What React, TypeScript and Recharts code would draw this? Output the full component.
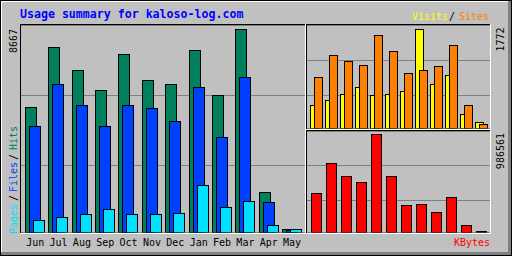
import { BarChart, Bar, XAxis, YAxis, CartesianGrid } from "recharts";

const months = ["Jun", "Jul", "Aug", "Sep", "Oct", "Nov", "Dec", "Jan", "Feb", "Mar", "Apr", "May"];
const hits = [5337, 7898, 6916, 6062, 7599, 6489, 6318, 7770, 5849, 8667, 1708, 128];
const files = [4525, 6318, 5422, 4525, 5422, 5294, 4739, 6190, 4056, 6617, 1281, 85];
const pages = [512, 640, 768, 982, 768, 768, 811, 2006, 1067, 1323, 299, 128];
const visits = [412, 501, 609, 734, 591, 609, 662, 1772, 788, 949, 251, 107];
const sites = [913, 1307, 1199, 1128, 1665, 1378, 985, 1038, 1110, 1486, 412, 72];
const kbytes = [392600, 694600, 563800, 503400, 986561, 563800, 271800, 281900, 201300, 352300, 70500, 10100];

// axis tops and grid ticks for the three panels
const hitsDomain = [0, 8859];
const hitsTicks = [2861, 5849];
const visitDomain = [0, 1852];
const visitTicks = [591, 1217];
const kbDomain = [0, 1021800];
const kbTicks = [322100, 674500];

const data = months.map((m, i) => ({
  month: m,
  hits: hits[i],
  files: files[i],
  pages: pages[i],
  visits: visits[i],
  sites: sites[i],
  kbytes: kbytes[i],
}));

const MONO = "'DejaVu Sans Mono', monospace";
const GRID = "#808080";

function MonthTick(props: any) {
  return (
    <text x={props.x} y={246} textAnchor="middle" fontFamily={MONO} fontSize={10} fill="#000">
      {props.payload.value}
    </text>
  );
}

const px = (x: number, y: number, w: number, h: number, fill: string) => (
  <rect x={x} y={y} width={w} height={h} fill={fill} />
);

export default function App() {
  const abs = { position: "absolute" as const, left: 0, top: 0 };
  return (
    <div
      style={{
        position: "absolute",
        left: 0,
        top: 0,
        width: 512,
        height: 256,
        background: "#C0C0C0",
        shapeRendering: "crispEdges",
      }}
    >
      {/* hits / files / pages */}
      <div style={abs}>
        <BarChart
          width={512}
          height={256}
          data={data}
          margin={{ top: 25, right: 207, bottom: 3.5, left: 21 }}
          barSize={11}
          barGap={-7}
        >
          <CartesianGrid vertical={false} stroke={GRID} />
          <XAxis
            dataKey="month"
            height={20}
            padding={{ left: 2.5, right: 1.2 }}
            axisLine={false}
            tickLine={false}
            interval={0}
            tick={MonthTick}
          />
          <YAxis hide domain={hitsDomain} ticks={hitsTicks} allowDataOverflow />
          <Bar dataKey="hits" fill="#00805C" stroke="#000" isAnimationActive={false} />
          <Bar dataKey="files" fill="#0040FF" stroke="#000" isAnimationActive={false} />
          <Bar dataKey="pages" fill="#00E0FF" stroke="#000" isAnimationActive={false} />
        </BarChart>
      </div>

      {/* visits / sites */}
      <div style={abs}>
        <BarChart
          width={512}
          height={256}
          data={data}
          margin={{ top: 25, right: 22, bottom: 127.5, left: 307 }}
          barSize={8}
          barGap={-4}
        >
          <CartesianGrid vertical={false} stroke={GRID} />
          <XAxis dataKey="month" hide padding={{ left: 1.5, right: 1.5 }} />
          <YAxis hide domain={visitDomain} ticks={visitTicks} allowDataOverflow />
          <Bar dataKey="visits" fill="#FFFF00" stroke="#000" isAnimationActive={false} />
          <Bar dataKey="sites" fill="#FF8000" stroke="#000" isAnimationActive={false} />
        </BarChart>
      </div>

      {/* kbytes */}
      <div style={abs}>
        <BarChart
          width={512}
          height={256}
          data={data}
          margin={{ top: 131, right: 22, bottom: 23.5, left: 307 }}
          barSize={10}
        >
          <CartesianGrid vertical={false} stroke={GRID} />
          <XAxis dataKey="month" hide padding={{ left: 1.5, right: 1.5 }} />
          <YAxis hide domain={kbDomain} ticks={kbTicks} allowDataOverflow />
          <Bar dataKey="kbytes" fill="#FF0000" stroke="#000" isAnimationActive={false} />
        </BarChart>
      </div>

      <svg width={512} height={256} style={abs}>
        {/* outer border */}
        {px(0, 0, 512, 1, "#000")}
        {px(0, 0, 1, 256, "#000")}
        {px(0, 255, 512, 1, "#000")}
        {px(511, 0, 1, 256, "#000")}
        {px(1, 1, 509, 1, "#fff")}
        {px(1, 1, 1, 253, "#fff")}
        {px(1, 252, 510, 3, "#808080")}
        {px(508, 1, 3, 254, "#808080")}

        {/* panel frames */}
        {px(20, 24, 286, 1, "#000")}
        {px(20, 24, 1, 210, "#000")}
        {px(20, 233, 286, 1, "#fff")}
        {px(305, 24, 1, 210, "#fff")}

        {px(306, 24, 185, 1, "#000")}
        {px(306, 24, 1, 106, "#000")}
        {px(490, 24, 1, 106, "#fff")}
        {px(306, 129, 185, 1, "#fff")}

        {px(306, 130, 185, 1, "#000")}
        {px(306, 130, 1, 104, "#000")}
        {px(490, 130, 1, 104, "#fff")}
        {px(306, 233, 185, 1, "#fff")}

        <text x={20} y={18} fill="#0000FF" fontFamily={MONO} fontWeight="bold" fontSize={11.6}>
          Usage summary for kaloso-log.com
        </text>

        <text y={20} fontFamily={MONO} fontSize={10}>
          <tspan x={412} fill="#FFFF00">Visits</tspan>
          <tspan x={449} fill="#000">/</tspan>
          <tspan x={459} fill="#FF8000">Sites</tspan>
        </text>

        <text transform="translate(16.5,234) rotate(-90)" fontFamily={MONO} fontSize={10}>
          <tspan x={0} fill="#00E0FF">Pages</tspan>
          <tspan x={33} fill="#000">/</tspan>
          <tspan x={42} fill="#0040FF">Files</tspan>
          <tspan x={74} fill="#000">/</tspan>
          <tspan x={84} fill="#00805C">Hits</tspan>
        </text>

        <text transform="translate(16.5,29) rotate(-90)" textAnchor="end" fontFamily={MONO} fontSize={10} fill="#000">
          {Math.max(...hits)}
        </text>
        <text transform="translate(504,27.5) rotate(-90)" textAnchor="end" fontFamily={MONO} fontSize={10} fill="#000">
          {Math.max(...visits)}
        </text>
        <text transform="translate(504,133) rotate(-90)" textAnchor="end" fontFamily={MONO} fontSize={10} fill="#000">
          {Math.max(...kbytes)}
        </text>

        <text x={490} y={246} textAnchor="end" fontFamily={MONO} fontSize={10} fill="#FF0000">
          KBytes
        </text>
      </svg>
    </div>
  );
}
